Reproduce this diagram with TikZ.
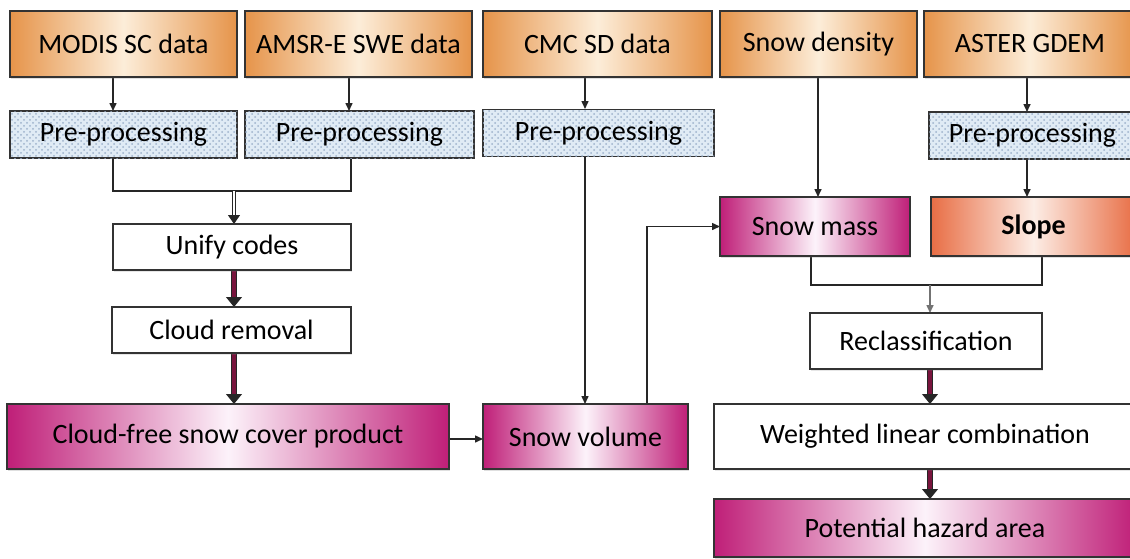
\documentclass[tikz,border=0pt]{standalone}
\usepackage{fontspec}
\setmainfont{Carlito}
\usepackage{tikz}
\usetikzlibrary{shapes}
\usetikzlibrary{arrows.meta}
\usetikzlibrary{patterns}
\usetikzlibrary{shadows}
\pgfdeclarelayer{edgelayer}
\pgfdeclarelayer{nodelayer}
\pgfsetlayers{edgelayer,nodelayer,main}
\definecolor{boxline}{rgb}{0.2,0.2,0.2}
\definecolor{dataorange}{rgb}{0.90,0.58,0.29}
\definecolor{datalight}{rgb}{0.99,0.93,0.85}
\definecolor{prepblue}{rgb}{0.88,0.92,0.96}
\definecolor{prepdots}{rgb}{0.62,0.70,0.80}
\definecolor{productpink}{rgb}{0.75,0.12,0.47}
\definecolor{productlight}{rgb}{0.99,0.95,0.98}
\definecolor{slopered}{rgb}{0.91,0.43,0.27}
\definecolor{slopelight}{rgb}{0.99,0.93,0.90}
\definecolor{arrowmaroon}{rgb}{0.47,0.08,0.24}
\newcommand{\flowfont}{\fontsize{14pt}{16pt}\selectfont}
\tikzstyle{none}=[inner sep=0pt]
\tikzstyle{box}=[rectangle, draw=boxline, line width=0.8pt, inner sep=0pt, font=\flowfont, text=black]
\tikzstyle{databox}=[box, left color=dataorange, right color=dataorange, middle color=datalight, minimum height=33pt, drop shadow={opacity=0.25, shadow xshift=0.6pt, shadow yshift=-1.2pt}]
\tikzstyle{prepbox}=[box, fill=prepblue, postaction={pattern=crosshatch dots, pattern color=prepdots}, minimum height=23.5pt]
\tikzstyle{stepbox}=[box, fill=white, drop shadow={opacity=0.2, shadow xshift=0.6pt, shadow yshift=-1.2pt}]
\tikzstyle{productbox}=[box, left color=productpink, right color=productpink, middle color=productlight, drop shadow={opacity=0.25, shadow xshift=0.6pt, shadow yshift=-1.2pt}]
\tikzstyle{slopebox}=[box, left color=slopered, right color=slopered, middle color=slopelight, drop shadow={opacity=0.25, shadow xshift=0.6pt, shadow yshift=-1.2pt}]
\tikzstyle{line}=[draw=black!85, line width=0.75pt]
\tikzstyle{flow}=[line, -{Triangle[length=4pt, width=3.5pt]}]
\tikzstyle{thinflow}=[draw=black!55, line width=0.75pt, -{Triangle[length=4pt, width=3.5pt]}]
\tikzstyle{doubleflow}=[draw=black!85, line width=0.5pt, double=white, double distance=1.2pt, -{Triangle[length=4.5pt, width=6pt]}]
\tikzstyle{bigflow}=[draw=black!85, line width=0.5pt, double=arrowmaroon, double distance=2.2pt, -{Triangle[length=5pt, width=8pt]}]

\begin{document}
\begin{tikzpicture}[x=0.5pt, y=0.5pt]
	\useasboundingbox (0, 0) rectangle (1130, -558);
	\begin{pgfonlayer}{nodelayer}
		\node [style=databox, minimum width=113.5pt] (0) at (123.5, -44) {MODIS SC data};
		\node [style=databox, minimum width=113.5pt] (1) at (358.5, -44) {AMSR-E SWE data};
		\node [style=databox, minimum width=114.5pt] (2) at (597.5, -44) {CMC SD data};
		\node [style=databox, minimum width=98.5pt] (3) at (818.5, -44) {Snow density};
		\node [style=databox, minimum width=106pt] (4) at (1030, -44) {ASTER GDEM};
		\node [style=prepbox, minimum width=113.5pt] (5) at (123.5, -134.5) {Pre-processing};
		\node [style=prepbox, minimum width=114.5pt] (6) at (359.5, -134.5) {Pre-processing};
		\node [style=prepbox, minimum width=115.5pt] (7) at (598.5, -133) {Pre-processing};
		\node [style=prepbox, minimum width=103.5pt] (8) at (1032.5, -135.5) {Pre-processing};
		\node [style=productbox, minimum width=95pt, minimum height=29.5pt] (9) at (815, -226.5) {Snow mass};
		\node [style=slopebox, minimum width=102.5pt, minimum height=29.5pt] (10) at (1033.5, -226.5) {\bfseries Slope};
		\node [style=stepbox, minimum width=119pt, minimum height=23pt] (11) at (232, -247) {Unify codes};
		\node [style=stepbox, minimum width=119.5pt, minimum height=23pt] (12) at (231.5, -330) {Cloud removal};
		\node [style=productbox, minimum width=221pt, minimum height=32.5pt] (13) at (228, -436.5) {Cloud-free snow cover product};
		\node [style=productbox, minimum width=102.5pt, minimum height=32.5pt] (14) at (585.5, -436.5) {Snow volume};
		\node [style=stepbox, minimum width=116pt, minimum height=28pt] (15) at (926, -341) {Reclassification};
		\node [style=stepbox, minimum width=211pt, minimum height=32.5pt] (16) at (925, -436.5) {Weighted linear combination};
		\node [style=productbox, minimum width=211pt, minimum height=29pt] (17) at (925, -528) {Potential hazard area};
		\node [style=none] (18) at (113, -77) {};
		\node [style=none] (19) at (113, -111) {};
		\node [style=none] (20) at (349, -77) {};
		\node [style=none] (21) at (349, -111) {};
		\node [style=none] (22) at (585, -77) {};
		\node [style=none] (23) at (585, -109) {};
		\node [style=none] (24) at (818, -77) {};
		\node [style=none] (25) at (818, -197) {};
		\node [style=none] (26) at (1027, -77) {};
		\node [style=none] (27) at (1027, -112) {};
		\node [style=none] (28) at (1027, -159) {};
		\node [style=none] (29) at (1027, -197) {};
		\node [style=none] (30) at (585, -157) {};
		\node [style=none] (31) at (585, -404) {};
		\node [style=none] (32) at (113, -158) {};
		\node [style=none] (33) at (113, -191) {};
		\node [style=none] (34) at (351, -191) {};
		\node [style=none] (35) at (351, -158) {};
		\node [style=none] (36) at (234, -191) {};
		\node [style=none] (37) at (234, -224) {};
		\node [style=none] (38) at (234, -270) {};
		\node [style=none] (39) at (234, -307) {};
		\node [style=none] (40) at (234, -353) {};
		\node [style=none] (41) at (234, -404) {};
		\node [style=none] (42) at (449, -439) {};
		\node [style=none] (43) at (483, -439) {};
		\node [style=none] (44) at (647, -404) {};
		\node [style=none] (45) at (647, -226.5) {};
		\node [style=none] (46) at (720, -226.5) {};
		\node [style=none] (47) at (811, -256) {};
		\node [style=none] (48) at (811, -285) {};
		\node [style=none] (49) at (1042, -285) {};
		\node [style=none] (50) at (1042, -256) {};
		\node [style=none] (51) at (930, -285) {};
		\node [style=none] (52) at (930, -313) {};
		\node [style=none] (53) at (930, -369) {};
		\node [style=none] (54) at (930, -404) {};
		\node [style=none] (55) at (930, -469) {};
		\node [style=none] (56) at (930, -499) {};
	\end{pgfonlayer}
	\begin{pgfonlayer}{edgelayer}
		\draw [style=flow] (18.center) to (19.center);
		\draw [style=flow] (20.center) to (21.center);
		\draw [style=flow] (22.center) to (23.center);
		\draw [style=flow] (24.center) to (25.center);
		\draw [style=flow] (26.center) to (27.center);
		\draw [style=flow] (28.center) to (29.center);
		\draw [style=flow] (30.center) to (31.center);
		\draw [style=line] (32.center) -- (33.center) -- (34.center) -- (35.center);
		\draw [style=doubleflow] (36.center) to (37.center);
		\draw [style=bigflow] (38.center) to (39.center);
		\draw [style=bigflow] (40.center) to (41.center);
		\draw [style=flow] (42.center) to (43.center);
		\draw [style=flow] (44.center) -- (45.center) -- (46.center);
		\draw [style=line] (47.center) -- (48.center) -- (49.center) -- (50.center);
		\draw [style=thinflow] (51.center) to (52.center);
		\draw [style=bigflow] (53.center) to (54.center);
		\draw [style=bigflow] (55.center) to (56.center);
	\end{pgfonlayer}
\end{tikzpicture}
\end{document}
